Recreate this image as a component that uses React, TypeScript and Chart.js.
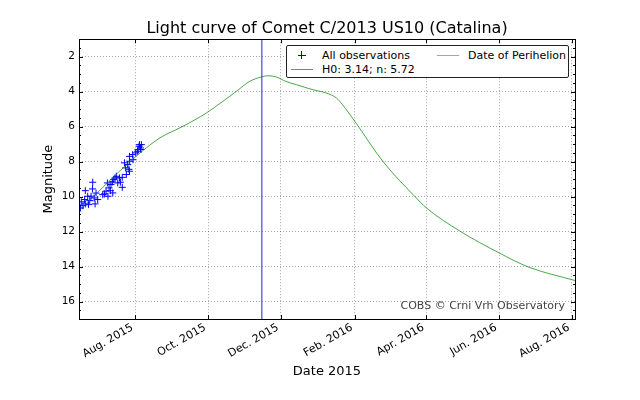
import React, { useEffect, useRef } from "react";
import { Chart, registerables } from "chart.js";

Chart.register(...registerables);

// x values are days counted from 2015-01-01 (day 0)
const obsDays = [
  166.0, 166.6, 168.0, 169.4, 170.0, 170.0, 172.0, 172.6, 173.7, 174.8,
  176.2, 176.0, 177.4, 178.2, 179.0, 180.4, 184.6, 186.0, 187.4, 188.5,
  189.0, 189.9, 191.0, 191.5, 192.7, 193.0, 193.8, 194.9, 196.0, 197.2,
  198.6, 199.4, 201.0, 201.0, 202.8, 203.8, 204.4, 205.5, 206.6, 207.0,
  207.2, 207.0, 209.7, 210.0, 212.3, 213.9, 214.2, 215.1, 215.4, 216.2,
  216.7, 217.0,
];
const obsMags = [
  10.65, 10.3, 10.52, 10.17, 10.42, 9.66, 9.98, 10.46, 10.23, 9.98,
  9.18, 9.56, 10.08, 10.42, 9.8, 10.17, 9.89, 9.85, 9.69, 9.22,
  9.98, 9.5, 9.66, 9.31, 9.16, 9.79, 9.03, 8.93, 8.84, 9.22,
  8.93, 9.18, 8.9, 9.47, 8.07, 8.36, 8.74, 8.17, 8.44, 8.55,
  7.98, 7.7, 7.6, 7.89, 7.5, 7.41, 7.31, 7.12, 7.03, 7.22,
  7.31, 7.03,
];

const curveDays = [
  164.7, 210.0, 232.4, 251.9, 271.5, 285.4, 296.7, 307.8, 317.6, 323.1,
  330.2, 338.0, 347.0, 360.9, 372.1, 380.5, 385.6, 396.0, 419.4, 446.1,
  456.0, 484.3, 517.0, 542.0, 580.6,
];
const curveMags = [
  10.8, 7.85, 6.65, 5.98, 5.22, 4.55, 3.98, 3.41, 3.16, 3.09,
  3.16, 3.41, 3.6, 3.89, 4.08, 4.36, 4.74, 5.7, 7.98, 9.98,
  10.65, 11.98, 13.22, 14.04, 14.8,
];

const perihelionDay = 318;

const xTickDays = [212, 273, 334, 396, 456, 517, 578];
const xTickLabels = ["Aug. 2015", "Oct. 2015", "Dec. 2015", "Feb. 2016", "Apr. 2016", "Jun. 2016", "Aug. 2016"];
const yTicks = [2, 4, 6, 8, 10, 12, 14, 16];

const xMin = 164.7;
const xMax = 580.6;
const yMin = 1;
const yMax = 17;

const FONT = "'DejaVu Sans', sans-serif";
const OBS_COLOR = "#0000ff";
const CURVE_COLOR = "rgba(0,128,0,0.7)";
const PERI_COLOR = "rgba(60,60,220,0.5)";

const frameTicks = {
  id: "frameTicks",
  afterDraw(chart: any) {
    const { ctx, chartArea, scales } = chart;
    const { left, right, top, bottom } = chartArea;
    const x = scales.x;
    const y = scales.y;
    ctx.save();
    ctx.strokeStyle = "#000";
    ctx.lineWidth = 1;
    ctx.setLineDash([]);
    ctx.beginPath();
    for (const v of xTickDays) {
      const px = Math.round(x.getPixelForValue(v)) + 0.5;
      ctx.moveTo(px, bottom);
      ctx.lineTo(px, bottom - 4);
      ctx.moveTo(px, top);
      ctx.lineTo(px, top + 4);
    }
    for (let v = yMin; v <= yMax + 0.001; v += 0.5) {
      const py = Math.round(y.getPixelForValue(v)) + 0.5;
      const len = yTicks.includes(v) ? 4 : 2;
      ctx.moveTo(left, py);
      ctx.lineTo(left + len, py);
      ctx.moveTo(right, py);
      ctx.lineTo(right - len, py);
    }
    ctx.stroke();
    ctx.strokeRect(Math.round(left) + 0.5, Math.round(top) + 0.5, Math.round(right - left), Math.round(bottom - top));
    ctx.restore();
  },
};

export default function App() {
  const canvasRef = useRef<HTMLCanvasElement | null>(null);

  useEffect(() => {
    if (!canvasRef.current) return;
    const chart = new Chart(canvasRef.current, {
      type: "scatter",
      data: {
        datasets: [
          {
            label: "All observations",
            data: obsDays.map((d, i) => ({ x: d, y: obsMags[i] })),
            pointStyle: "cross",
            pointRadius: 3.5,
            pointBorderWidth: 1,
            borderColor: OBS_COLOR,
            backgroundColor: OBS_COLOR,
            showLine: false,
            order: 3,
          },
          {
            label: "H0: 3.14; n: 5.72",
            data: curveDays.map((d, i) => ({ x: d, y: curveMags[i] })),
            showLine: true,
            pointRadius: 0,
            borderColor: CURVE_COLOR,
            borderWidth: 1,
            cubicInterpolationMode: "monotone",
            order: 2,
          } as any,
          {
            label: "Date of Perihelion",
            data: [
              { x: perihelionDay, y: yMin },
              { x: perihelionDay, y: yMax },
            ],
            showLine: true,
            pointRadius: 0,
            borderColor: PERI_COLOR,
            borderWidth: 1,
            order: 1,
          },
        ],
      },
      options: {
        responsive: false,
        animation: false,
        devicePixelRatio: 1,
        layout: { padding: { left: 0, right: 65, top: 0, bottom: 0 } },
        plugins: {
          legend: { display: false },
          tooltip: { enabled: false },
          title: {
            display: true,
            text: "Light curve of Comet C/2013 US10 (Catalina)",
            fullSize: false,
            color: "#000",
            font: { family: FONT, size: 16, weight: "normal", lineHeight: 1.2 },
            padding: { top: 19, bottom: 1 },
          },
        },
        scales: {
          x: {
            type: "linear",
            min: xMin,
            max: xMax,
            afterBuildTicks: (s: any) => {
              s.ticks = xTickDays.map((v) => ({ value: v }));
            },
            afterFit: (s: any) => {
              s.height = 81;
            },
            ticks: {
              autoSkip: false,
              minRotation: 30,
              maxRotation: 30,
              padding: 2,
              labelOffset: -3,
              color: "#000",
              font: { family: FONT, size: 11 },
              callback: (v: any) => {
                const i = xTickDays.indexOf(Number(v));
                return i >= 0 ? xTickLabels[i] : "";
              },
            },
            grid: { color: "rgba(0,0,0,0.35)", drawTicks: false, borderDash: [1, 2] } as any,
            border: { display: false, dash: [1, 2] },
            title: {
              display: true,
              text: "Date 2015",
              color: "#000",
              font: { family: FONT, size: 13, lineHeight: 1.2 },
              padding: { top: 0, bottom: 21 },
            },
          },
          y: {
            type: "linear",
            min: yMin,
            max: yMax,
            reverse: true,
            afterBuildTicks: (s: any) => {
              s.ticks = yTicks.map((v) => ({ value: v }));
            },
            afterFit: (s: any) => {
              s.width = 79;
            },
            ticks: {
              padding: 4,
              color: "#000",
              font: { family: FONT, size: 10.5 },
            },
            grid: { color: "rgba(0,0,0,0.35)", drawTicks: false, borderDash: [1, 2] } as any,
            border: { display: false, dash: [1, 2] },
            title: {
              display: true,
              text: "Magnitude",
              color: "#000",
              font: { family: FONT, size: 13, lineHeight: 1.2 },
              padding: { top: 40.5, bottom: 0 },
            },
          },
        },
      } as any,
      plugins: [frameTicks],
    });
    return () => chart.destroy();
  }, []);

  const sample = (left: number, top: number, color: string) => (
    <div style={{ position: "absolute", left, top, width: 22, height: 1, background: color }} />
  );

  return (
    <div style={{ position: "fixed", left: 0, top: 0, width: 640, height: 400, background: "#fff" }}>
      <canvas ref={canvasRef} width={640} height={400} style={{ position: "absolute", left: 0, top: 0 }} />
      <div
        style={{
          position: "absolute",
          left: 286,
          top: 45,
          width: 283,
          height: 33,
          boxSizing: "border-box",
          border: "1px solid #222",
          borderRadius: 2,
          background: "#fff",
          fontFamily: FONT,
          fontSize: 11,
          lineHeight: "13px",
          color: "#000",
        }}
      >
        <div style={{ position: "absolute", left: 14, top: 5, width: 1, height: 8, background: OBS_COLOR }} />
        <div style={{ position: "absolute", left: 10.5, top: 8.5, width: 8, height: 1, background: OBS_COLOR }} />
        <div style={{ position: "absolute", left: 35, top: 2.5, whiteSpace: "nowrap" }}>All observations</div>
        {sample(150, 9, PERI_COLOR)}
        <div style={{ position: "absolute", left: 181, top: 2.5, whiteSpace: "nowrap" }}>Date of Perihelion</div>
        {sample(4, 23, CURVE_COLOR)}
        <div style={{ position: "absolute", left: 35, top: 16.5, whiteSpace: "nowrap" }}>H0: 3.14; n: 5.72</div>
      </div>
      <div
        style={{
          position: "absolute",
          right: 75,
          top: 299,
          fontFamily: FONT,
          fontSize: 11,
          lineHeight: "14px",
          color: "#444",
          whiteSpace: "nowrap",
        }}
      >
        COBS © Crni Vrh Observatory
      </div>
    </div>
  );
}
